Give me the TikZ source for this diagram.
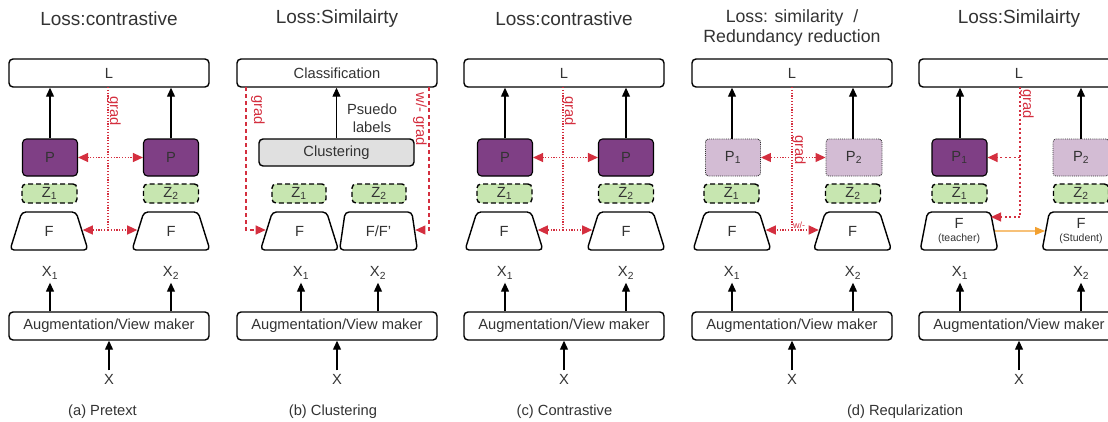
\documentclass[tikz,border=0pt]{standalone}
\usepackage{fontspec}
\setmainfont{Liberation Sans}
\usetikzlibrary{arrows.meta,shapes.geometric,calc}
\definecolor{txt}{HTML}{333333}
\definecolor{darkp}{HTML}{7F3F85}
\definecolor{lightp}{HTML}{D3BCD4}
\definecolor{zgreen}{HTML}{C7E6B0}
\definecolor{clgray}{HTML}{E0E0E0}
\definecolor{gradred}{HTML}{D42F3F}
\definecolor{orng}{HTML}{F2A030}
\tikzset{
 every node/.style={text=txt, font=\fontsize{14.7}{16}\selectfont},
 box/.style={draw=black, line width=1.4pt, rounded corners=4pt, fill=white, minimum width=200pt, minimum height=28pt, inner sep=0pt},
 pbox/.style={draw=black, line width=1.1pt, rounded corners=4pt, fill=darkp, minimum width=55pt, minimum height=37pt, inner sep=0pt},
 plight/.style={draw=black!80, line width=0.9pt, densely dotted, rounded corners=3pt, fill=lightp, minimum width=55pt, minimum height=37pt, inner sep=0pt},
 zbox/.style={draw=black, line width=1.4pt, dash pattern=on 5pt off 3pt, rounded corners=4pt, fill=zgreen, minimum width=55pt, minimum height=19pt, inner sep=0pt},
 fbox/.style={trapezium, trapezium angle=79, trapezium stretches=true, draw=black, line width=1.4pt, rounded corners=4pt, fill=white, minimum width=78pt, minimum height=38pt, inner sep=0pt},
 arr/.style={draw=black, line width=1.2pt, -{Triangle[length=9pt,width=8pt]}},
 gdot/.style={draw=gradred, line width=1.2pt, dash pattern=on 1.2pt off 1.6pt},
 gdots/.style={draw=gradred, line width=1.2pt, dash pattern=on 2pt off 2.5pt},
 gdash/.style={draw=gradred, line width=1.1pt, dash pattern=on 4pt off 3pt},
 gtip/.style={-{Triangle[length=10pt,width=9pt]}},
 title/.style={font=\fontsize{19}{22}\selectfont},
 lbl/.style={text=gradred, rotate=-90},
}
\newcommand{\contrastpanel}[4]{%
\begin{scope}[shift={(#2,0)}, name prefix=#1-]
 \node[title] (title) at (109,19) {Loss:contrastive};
 \node[box] (L) at (109,73) {L};
 \node[pbox] (P1) at (50,157.5) {P};
 \node[pbox] (P2) at (171,157.5) {P};
 \node[zbox] (Z1) at (49.5,193.5) {Z\textsubscript{1}};
 \node[zbox] (Z2) at (171,193.5) {Z\textsubscript{2}};
 \node[fbox] (F1) at (49,231) {F};
 \node[fbox] (F2) at (171,231) {F};
 \node (X1) at (50,273) {X\textsubscript{1}};
 \node (X2) at (171,273) {X\textsubscript{2}};
 \node[box] (A) at (109,326) {Augmentation/View maker};
 \node (X) at (109,379) {X};
 \node (cap) at (#3,412) {#4};
 \draw[arr] (P1.north) -- (P1.north |- L.south);
 \draw[arr] (P2.north) -- (P2.north |- L.south);
 \draw[arr] (A.north -| X1) -- (X1.south);
 \draw[arr] (A.north -| X2) -- (X2.south);
 \draw[arr] (X.north) -- (A.south);
 \coordinate (g0) at (108,87);
 \coordinate (gp) at (108,157.5);
 \coordinate (gf) at (108,230);
 \draw[gdot] (g0) -- (gf);
 \draw[gdot,gtip] (gp) -- (P1.east);
 \draw[gdot,gtip] (gp) -- (P2.west);
 \draw[gdot,gtip] (gf) -- (gf -| F1.east);
 \draw[gdot,gtip] (gf) -- (gf -| F2.west);
 \node[lbl] (gl) at (114,111) {grad};
\end{scope}}
\begin{document}
\begin{tikzpicture}[x=1pt,y=-1pt]
\path[use as bounding box] (0,0) rectangle (1108,421);
\clip (0,0) rectangle (1108,421);

% (a)
\contrastpanel{a}{0}{102.5}{(a) Pretext}

% (b)
\begin{scope}[name prefix=b-]
 \node[title] (title) at (337,19) {Loss:Similairty};
 \node[box] (C) at (337,73) {Classification};
 \node[box, fill=clgray, minimum width=155pt, minimum height=27pt] (Cl) at (336.5,152.5) {Clustering};
 \node[align=center, font=\fontsize{14.7}{18}\selectfont] (pl) at (372,118) {Psuedo\\labels};
 \node[zbox, minimum width=54pt] (Z1) at (299,193.5) {Z\textsubscript{1}};
 \node[zbox, minimum width=54pt] (Z2) at (379,193.5) {Z\textsubscript{2}};
 \node[fbox] (F1) at (299.5,231) {F};
 \node[fbox] (F2) at (378.5,231) {F/F'};
 \node (X1) at (301,273) {X\textsubscript{1}};
 \node (X2) at (378,273) {X\textsubscript{2}};
 \node[box] (A) at (337,326) {Augmentation/View maker};
 \node (X) at (337,379) {X};
 \node (cap) at (333,412) {(b) Clustering};
 \draw[arr] (Cl.north) -- (Cl.north |- C.south);
 \draw[arr] (A.north -| X1) -- (X1.south);
 \draw[arr] (A.north -| X2) -- (X2.south);
 \draw[arr] (X.north) -- (A.south);
 \coordinate (l0) at (246,87);
 \coordinate (l1) at (246,230);
 \coordinate (r0) at (429,87);
 \coordinate (r1) at (429,230);
 \draw[gdash,gtip] (l0) -- (l1) -- (l1 -| F1.west);
 \draw[gdash,gtip] (r0) -- (r1) -- (r1 -| F2.east);
 \node[lbl] (gl) at (258,110) {grad};
 \node[lbl] (gr) at (420,119) {w/- grad};
\end{scope}

% (c)
\contrastpanel{c}{455}{109.5}{(c) Contrastive}

% (d)
\begin{scope}[name prefix=d-]
 \node[align=center, font=\fontsize{17.7}{20}\selectfont] (title) at (792,28) {Loss: similarity\ \ /\\Redundancy reduction};
 \node[box] (L) at (792,73) {L};
 \node[plight] (P1) at (733,157.5) {P\textsubscript{1}};
 \node[plight, minimum width=56pt] (P2) at (854,157.5) {P\textsubscript{2}};
 \node[zbox] (Z1) at (731.5,193.5) {Z\textsubscript{1}};
 \node[zbox] (Z2) at (853,193.5) {Z\textsubscript{2}};
 \node[fbox] (F1) at (732,231) {F};
 \node[fbox] (F2) at (852.5,231) {F};
 \node (X1) at (732,273) {X\textsubscript{1}};
 \node (X2) at (853,273) {X\textsubscript{2}};
 \node[box] (A) at (792,326) {Augmentation/View maker};
 \node (X) at (792,379) {X};
 \node (cap) at (905,412) {(d) Reqularization};
 \draw[arr] (P1.north -| X1) -- (X1 |- L.south);
 \draw[arr] (P2.north -| X2) -- (X2 |- L.south);
 \draw[arr] (A.north -| X1) -- (X1.south);
 \draw[arr] (A.north -| X2) -- (X2.south);
 \draw[arr] (X.north) -- (A.south);
 \coordinate (g0) at (792,87);
 \coordinate (gp) at (792,157.5);
 \coordinate (gf) at (792,230);
 \draw[gdot] (g0) -- (gf);
 \draw[gdot,gtip] (gp) -- (P1.east);
 \draw[gdot,gtip] (gp) -- (P2.west);
 \draw[gdot,gtip] (gf) -- (gf -| F1.east);
 \draw[gdot,gtip] (gf) -- (gf -| F2.west);
 \node[lbl] (gl) at (799,150) {grad};
 \node[text=gradred, font=\fontsize{9}{10}\selectfont, inner sep=0.5pt] (wl) at (799,225) {w/-};
\end{scope}

% (e)
\begin{scope}[name prefix=e-]
 \node[title] (title) at (1019,19) {Loss:Similairty};
 \node[box] (L) at (1019,73) {L};
 \node[pbox] (P1) at (959.5,157.5) {P\textsubscript{1}};
 \node[plight, minimum width=56pt] (P2) at (1081,157.5) {P\textsubscript{2}};
 \node[zbox] (Z1) at (959.5,193.5) {Z\textsubscript{1}};
 \node[zbox] (Z2) at (1081,193.5) {Z\textsubscript{2}};
 \node[fbox, align=center, font=\fontsize{14.7}{14}\selectfont] (Ft) at (959,231) {F\\[-1pt]{\fontsize{10.5}{12}\selectfont (teacher)}};
 \node[fbox, align=center, font=\fontsize{14.7}{14}\selectfont] (Fs) at (1081,231) {F\\[-1pt]{\fontsize{10.5}{12}\selectfont (Student)}};
 \node (X1) at (960,273) {X\textsubscript{1}};
 \node (X2) at (1081,273) {X\textsubscript{2}};
 \node[box] (A) at (1019,326) {Augmentation/View maker};
 \node (X) at (1019,379) {X};
 \draw[arr] (P1.north -| X1) -- (X1 |- L.south);
 \draw[arr] (P2.north -| X2) -- (X2 |- L.south);
 \draw[arr] (A.north -| X1) -- (X1.south);
 \draw[arr] (A.north -| X2) -- (X2.south);
 \draw[arr] (X.north) -- (A.south);
 \coordinate (g0) at (1020,87);
 \coordinate (gp) at (1020,157.5);
 \coordinate (gf) at (1020,217);
 \draw[gdots] (g0) -- (gf);
 \draw[gdots,gtip] (gp) -- (P1.east);
 \draw[gdots,gtip] (gf) -- (gf -| Ft.top right corner);
 \draw[orng, line width=1.2pt, -{Triangle[length=10pt,width=8pt]}] (Ft.east) -- (Fs.west);
 \node[lbl] (gl) at (1027,104) {grad};
\end{scope}
\end{tikzpicture}
\end{document}
